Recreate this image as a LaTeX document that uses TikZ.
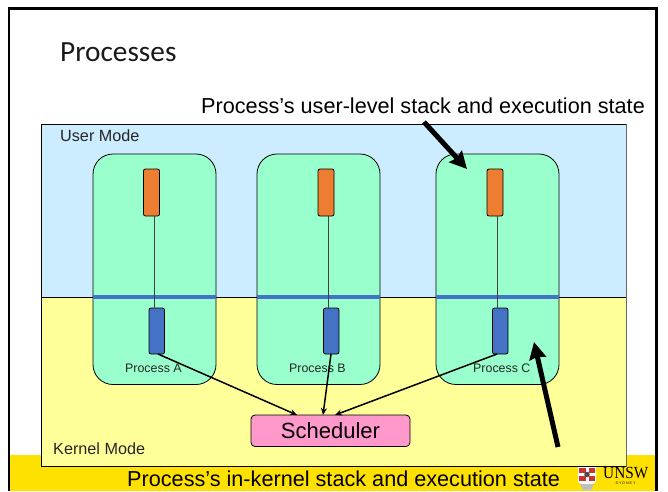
\documentclass[tikz,border=0pt]{standalone}
\usepackage{graphicx}
\usepackage{fontspec}
\setmainfont{Liberation Sans}
\newfontfamily\titlefont{Carlito}
\newfontfamily\logofont{Liberation Serif}
\usetikzlibrary{arrows.meta}
\definecolor{userblue}{HTML}{CCECFF}
\definecolor{kernyellow}{HTML}{FFFF99}
\definecolor{procgreen}{HTML}{99FFCC}
\definecolor{stackorange}{HTML}{ED7D31}
\definecolor{stackblue}{HTML}{4472C4}
\definecolor{schedpink}{HTML}{FF99CC}
\definecolor{bandyellow}{HTML}{FFE100}
\definecolor{crestred}{HTML}{C8342B}
\tikzset{
  box/.style={draw=black,line width=0.8pt,inner sep=0pt,outer sep=0pt,anchor=north west},
  procbox/.style={box,fill=procgreen,minimum width=123pt,minimum height=230.5pt,rounded corners=20pt},
  ustack/.style={box,fill=stackorange,minimum width=16pt,minimum height=47pt,rounded corners=2pt},
  kstack/.style={box,fill=stackblue,minimum width=15.5pt,minimum height=46pt,rounded corners=2pt},
  divider/.style={draw=stackblue,line width=3.5pt},
  link/.style={draw=black!75,line width=0.8pt},
  schedarrow/.style={draw=black,line width=1.5pt,-{Stealth[length=7pt,width=6pt]}},
  bigarrow/.style={draw=black,line width=5pt,-{Stealth[length=17pt,width=17pt,inset=2pt]}},
  caption/.style={inner sep=0pt,anchor=base west,font=\fontsize{21.65}{25}\selectfont},
  modelabel/.style={inner sep=0pt,anchor=base west,font=\fontsize{16.2}{19}\selectfont,text=black!85},
  proclabel/.style={inner sep=0pt,anchor=base west,font=\fontsize{12.4}{15}\selectfont,text=black!85}
}
\begin{document}
\begin{tikzpicture}[x=1pt,y=-1pt]
\useasboundingbox (0,0) rectangle (668,491);
% slide
\fill[white] (0,0) rectangle (668,491);
\fill[bandyellow] (9,455) rectangle (656,491);
\draw[black,line width=2.5pt] (9,491) -- (9,8.5) -- (656.5,8.5) -- (656.5,491);
\node[inner sep=0pt,anchor=base west,font=\titlefont\fontsize{29.3}{34}\selectfont,text=black!90] (title) at (60,61) {Processes};
% modes
\fill[userblue] (41.5,124) rectangle (626,297);
\fill[kernyellow] (41.5,297) rectangle (626,466.5);
\draw[black,line width=0.8pt] (626,466.5) -- (41.5,466.5) -- (41.5,124) -- (626,124);
\draw[black!60,line width=0.8pt] (626,124) -- (626,466.5);
\draw[black,line width=0.6pt] (41.5,297) -- (626,297);
% processes
\node[procbox] (pa) at (93,154) {};
\node[procbox] (pb) at (257,154) {};
\node[procbox] (pc) at (436,154) {};
\draw[divider] (pa.west |- 0,297) -- (pa.east |- 0,297);
\draw[divider] (pb.west |- 0,297) -- (pb.east |- 0,297);
\draw[divider] (pc.west |- 0,297) -- (pc.east |- 0,297);
% stacks
\node[ustack] (ua) at (143.5,169) {};
\node[ustack] (ub) at (318,169) {};
\node[ustack] (uc) at (487,169) {};
\node[kstack] (ka) at (149,308) {};
\node[kstack] (kb) at (323.5,308) {};
\node[kstack] (kc) at (492.5,308) {};
\coordinate (ja) at (154,216);
\coordinate (jb) at (328.5,216);
\coordinate (jc) at (497.5,216);
\draw[link] (ja) -- (ja |- ka.north);
\draw[link] (jb) -- (jb |- kb.north);
\draw[link] (jc) -- (jc |- kc.north);
% labels
\node[modelabel] (um) at (60,141.5) {User Mode};
\node[modelabel] (km) at (53,454) {Kernel Mode};
\node[proclabel] (la) at (125,372.5) {Process A};
\node[proclabel] (lb) at (289,372.5) {Process B};
\node[proclabel] (lc) at (473,372.5) {Process C};
% scheduler
\node[box,fill=schedpink,minimum width=159pt,minimum height=31.5pt,rounded corners=4pt,font=\fontsize{22}{25}\selectfont] (sched) at (251,415) {Scheduler};
\coordinate (sa) at (297,415);
\coordinate (sb) at (323,415);
\coordinate (sc) at (335,415);
\coordinate (ka0) at (158,354);
\coordinate (kb0) at (331,354);
\coordinate (kc0) at (497,354);
\draw[schedarrow] (ka0) -- (sa);
\draw[schedarrow] (kb0) -- (sb);
\draw[schedarrow] (kc0) -- (sc);
% captions
\node[caption] (cu) at (201,113) {Process’s user-level stack and execution state};
\node[caption] (ck) at (127,486) {Process’s in-kernel stack and execution state};
\coordinate (au) at (424,122);
\coordinate (tu) at (467,169);
\coordinate (ak) at (558,447);
\coordinate (tk) at (534,342);
\draw[bigarrow] (au) -- (tu);
\draw[bigarrow] (ak) -- (tk);
% logo
\fill[white] (578,467) -- (596,467) -- (596,482) -- (587,487) -- (578,482) -- cycle;
\fill[crestred] (579,468) rectangle (595,481);
\fill[white] (585.5,468) rectangle (588.5,481);
\fill[white] (579,473) rectangle (595,476);
\fill[black!70] (587,474.5) circle (2.8pt);
\fill[black!25] (580,484) -- (594,484) -- (591,490) -- (583,490) -- cycle;
\node[inner sep=0pt,anchor=base west,font=\logofont\fontsize{17}{18}\selectfont] (unsw) at (603,478) {\scalebox{0.9}[1]{UNSW}};
\node[inner sep=0pt,anchor=base,font=\fontsize{3.6}{4}\selectfont] (syd) at (625.5,484.5) {S Y D N E Y};
\end{tikzpicture}
\end{document}
